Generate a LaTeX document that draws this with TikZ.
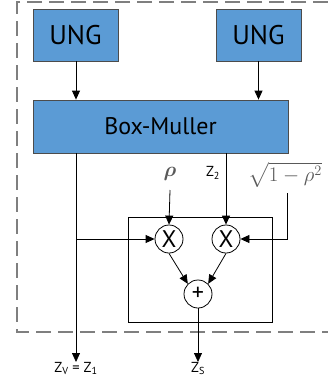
\documentclass[tikz,border=0pt]{standalone}
\usepackage{amsmath}
\usepackage{fontspec}
\setmainfont{PT Sans}
\usetikzlibrary{arrows.meta}
\definecolor{boxblue}{HTML}{5B9BD5}
\definecolor{dashgray}{HTML}{7F7F7F}
\begin{document}
\begin{tikzpicture}[x=1pt,y=-1pt,
  blk/.style={draw=black!70,line width=0.8pt,fill=boxblue,inner sep=0pt},
  op/.style={circle,draw=black,line width=0.8pt,fill=white,minimum size=28pt,inner sep=0pt,font=\fontsize{24}{24}\selectfont},
  conn/.style={line width=0.8pt,-{Triangle[length=9pt,width=8pt]}},
  lab/.style={font=\fontsize{14.5}{14.5}\selectfont,inner sep=0pt}]
\useasboundingbox (0,0) rectangle (328,383);
% dashed frame
\draw[dashgray,line width=1.2pt,dash pattern=on 15pt off 7pt] (328,2) -- (17,2) -- (17,332) -- (328,332);
% blocks
\node[blk,minimum width=85pt,minimum height=52pt,font=\fontsize{27}{27}\selectfont] (u1) at (75.5,35) {UNG};
\node[blk,minimum width=85pt,minimum height=52pt,font=\fontsize{27}{27}\selectfont] (u2) at (258.5,35) {UNG};
\node[blk,minimum width=255pt,minimum height=53pt,font=\fontsize{24}{24}\selectfont] (bm) at (160.5,126.5) {Box-Muller};
% inner box
\node[draw,line width=0.8pt,minimum width=144pt,minimum height=105pt,inner sep=0pt] (ib) at (200,269.5) {};
% operators
\node[op] (x1) at (169,239) {X};
\node[op] (x2) at (226,239) {X};
\node[op] (pl) at (198,294) {+};
% labels
\node[lab,text=black!65] (rho) at (170,174) {\fontsize{21}{21}\selectfont$\boldsymbol{\rho}$};
\node[lab] (z2) at (213,173) {Z\textsubscript{2}};
\node[lab,text=black!65] (sq) at (285,175) {\fontsize{21}{21}\selectfont$\sqrt{1-\rho^2}$};
\node[lab,anchor=north] (zv) at (76,362) {Z\textsubscript{V} = Z\textsubscript{1}};
\node[lab,anchor=north] (zs) at (198,362) {Z\textsubscript{S}};
\coordinate (rhoTop) at (170,190);
\coordinate (sqTop) at (287,193);
\coordinate (br) at (76,239);
% connectors
\draw[conn] (u1.south -| 76,0) -- (bm.north -| 76,0);
\draw[conn] (u2.south) -- (bm.north -| u2.south);
\draw[conn] (bm.south -| 76,0) -- (zv.north);
\draw[conn] (bm.south -| x2.north) -- (x2.north);
\draw[conn] (rhoTop) -- (x1.north);
\draw[conn] (br) -- (x1.west);
\draw[conn] (sqTop) |- (x2.east);
\draw[conn] (x1.south) -- (pl.north west);
\draw[conn] (x2.south) -- (pl.north east);
\draw[conn] (pl.south) -- (zs.north);
\end{tikzpicture}
\end{document}
